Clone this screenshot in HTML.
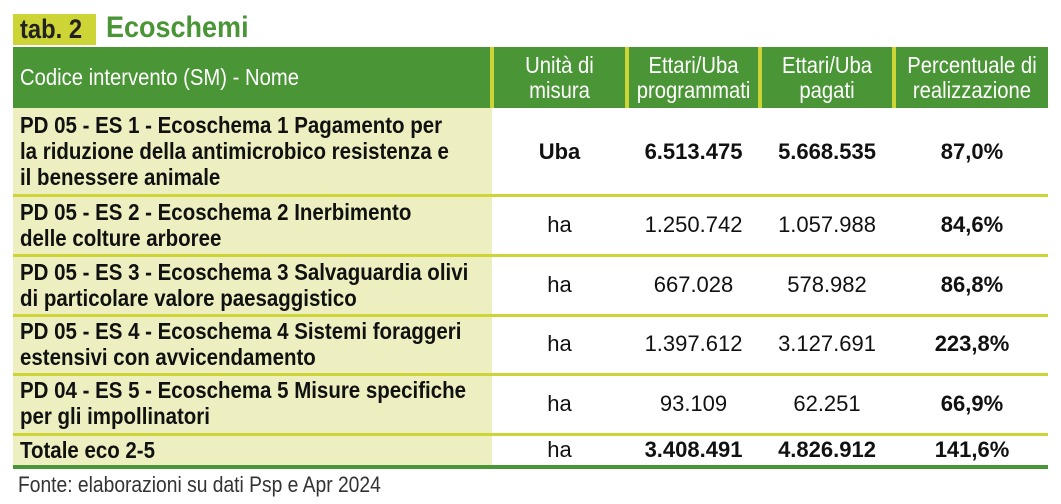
<!DOCTYPE html>
<html><head><meta charset="utf-8"><style>
body{margin:0;width:1061px;height:504px;background:#fff;position:relative;overflow:hidden;font-family:"Liberation Sans Narrow","Liberation Sans",sans-serif;}
div{position:absolute;}
.t{white-space:nowrap;font-size:21px;line-height:26px;color:#111;}
.l{font-size:23px;transform:scaleX(0.89);transform-origin:left;}
.c{text-align:center;}
.b{font-weight:bold;}
.n{font-size:22px;}
.h{color:#fff;font-size:23px;line-height:25px;text-align:center;white-space:nowrap;transform:scaleX(0.88);}
.sep{left:13px;width:1035px;height:3px;background:#cdd435;}
.vd{top:47px;height:61px;width:4px;background:#cdd435;}
</style></head><body>
<div style="left:13px;top:14px;width:83px;height:31px;background:#cdd435;"></div>
<div style="left:20px;top:13px;font-size:27px;line-height:32px;font-weight:bold;color:#222;font-family:'Liberation Sans',sans-serif;transform:scaleX(0.88);transform-origin:left;">tab. 2</div>
<div style="left:106px;top:11px;font-size:30px;line-height:34px;font-weight:bold;color:#4a9535;font-family:'Liberation Sans',sans-serif;transform:scaleX(0.9);transform-origin:left;">Ecoschemi</div>

<div style="left:13px;top:47px;width:1035px;height:61px;background:#4a9535;"></div>
<div class="vd" style="left:490px"></div>
<div class="vd" style="left:625px"></div>
<div class="vd" style="left:758px"></div>
<div class="vd" style="left:892px"></div>
<div class="h" style="left:20px;top:65px;text-align:left;transform-origin:left;">Codice intervento (SM) - Nome</div>
<div class="h" style="left:494px;width:131px;top:53px;">Unità di<br>misura</div>
<div class="h" style="left:629px;width:129px;top:53px;">Ettari/Uba<br>programmati</div>
<div class="h" style="left:762px;width:130px;top:53px;">Ettari/Uba<br>pagati</div>
<div class="h" style="left:896px;width:152px;top:53px;">Percentuale di<br>realizzazione</div>

<div style="left:13px;top:108px;width:479px;height:358px;background:#eeefc0;"></div>
<div class="sep" style="top:194px"></div>
<div class="sep" style="top:254px"></div>
<div class="sep" style="top:314px"></div>
<div class="sep" style="top:373px"></div>
<div class="sep" style="top:433px"></div>
<div style="left:13px;top:465px;width:1035px;height:4px;background:#4a9535;"></div>

<div class="t b l" style="left:20px;top:112px;">PD 05 - ES 1 - Ecoschema 1 Pagamento per<br>la riduzione della antimicrobico resistenza e<br>il benessere animale</div>
<div class="t b c n" style="left:494px;width:131px;top:139px;">Uba</div>
<div class="t b c n" style="left:629px;width:129px;top:139px;">6.513.475</div>
<div class="t b c n" style="left:762px;width:130px;top:139px;">5.668.535</div>
<div class="t b c n" style="left:896px;width:152px;top:139px;">87,0%</div>

<div class="t b l" style="left:20px;top:199px;">PD 05 - ES 2 - Ecoschema 2 Inerbimento<br>delle colture arboree</div>
<div class="t c n" style="left:494px;width:131px;top:212px;">ha</div>
<div class="t c n" style="left:629px;width:129px;top:212px;">1.250.742</div>
<div class="t c n" style="left:762px;width:130px;top:212px;">1.057.988</div>
<div class="t b c n" style="left:896px;width:152px;top:212px;">84,6%</div>

<div class="t b l" style="left:20px;top:259px;">PD 05 - ES 3 - Ecoschema 3 Salvaguardia olivi<br>di particolare valore paesaggistico</div>
<div class="t c n" style="left:494px;width:131px;top:272px;">ha</div>
<div class="t c n" style="left:629px;width:129px;top:272px;">667.028</div>
<div class="t c n" style="left:762px;width:130px;top:272px;">578.982</div>
<div class="t b c n" style="left:896px;width:152px;top:272px;">86,8%</div>

<div class="t b l" style="left:20px;top:318px;">PD 05 - ES 4 - Ecoschema 4 Sistemi foraggeri<br>estensivi con avvicendamento</div>
<div class="t c n" style="left:494px;width:131px;top:331px;">ha</div>
<div class="t c n" style="left:629px;width:129px;top:331px;">1.397.612</div>
<div class="t c n" style="left:762px;width:130px;top:331px;">3.127.691</div>
<div class="t b c n" style="left:896px;width:152px;top:331px;">223,8%</div>

<div class="t b l" style="left:20px;top:377px;">PD 04 - ES 5 - Ecoschema 5 Misure specifiche<br>per gli impollinatori</div>
<div class="t c n" style="left:494px;width:131px;top:391px;">ha</div>
<div class="t c n" style="left:629px;width:129px;top:391px;">93.109</div>
<div class="t c n" style="left:762px;width:130px;top:391px;">62.251</div>
<div class="t b c n" style="left:896px;width:152px;top:391px;">66,9%</div>

<div class="t b l" style="left:20px;top:437px;">Totale eco 2-5</div>
<div class="t c n" style="left:494px;width:131px;top:437px;">ha</div>
<div class="t b c n" style="left:629px;width:129px;top:437px;">3.408.491</div>
<div class="t b c n" style="left:762px;width:130px;top:437px;">4.826.912</div>
<div class="t b c n" style="left:896px;width:152px;top:437px;">141,6%</div>

<div class="t" style="left:18px;top:472px;font-size:22px;color:#333;transform:scaleX(0.875);transform-origin:left;">Fonte: elaborazioni su dati Psp e Apr 2024</div>
</body></html>
